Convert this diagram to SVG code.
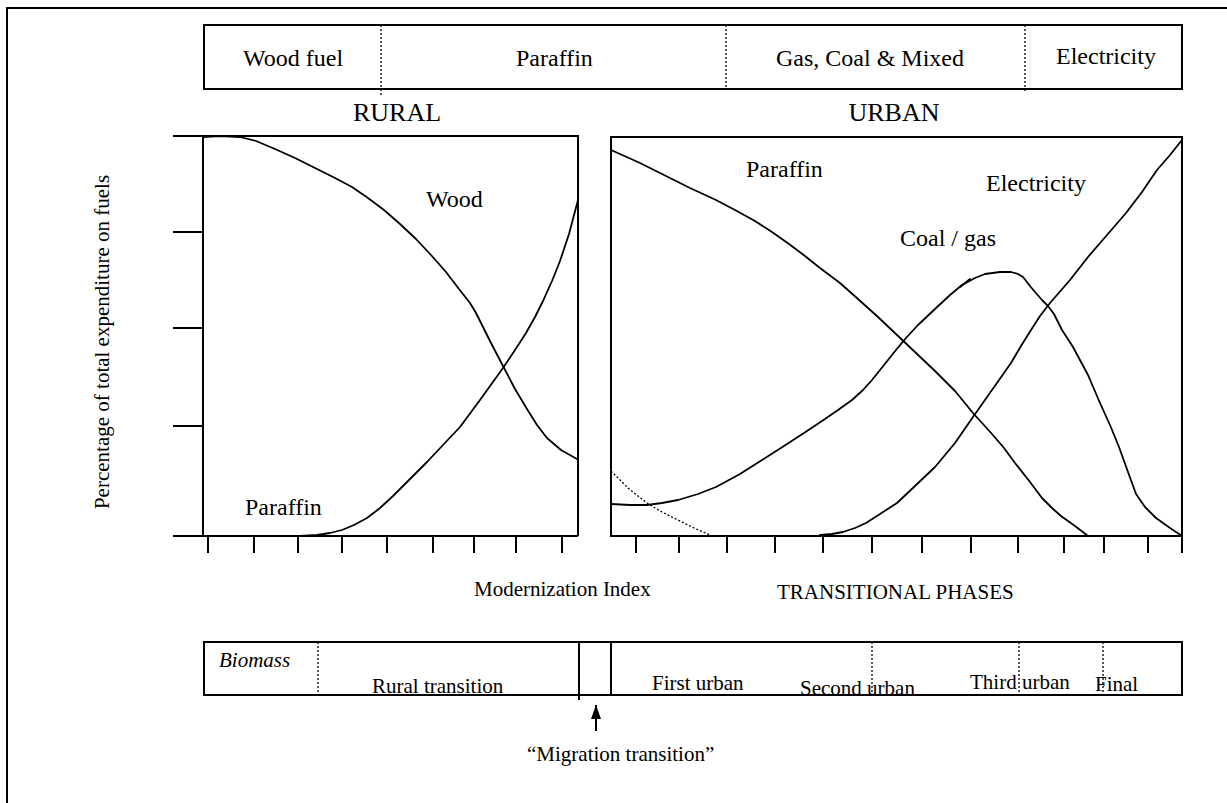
<svg xmlns="http://www.w3.org/2000/svg" width="1227" height="803" viewBox="0 0 1227 803">
<style>
.ln{stroke:#000;stroke-width:2;fill:none}
.cv{stroke:#000;stroke-width:1.8;fill:none;stroke-linejoin:round;stroke-linecap:round}
.dot{stroke:#000;stroke-width:1.3;fill:none;stroke-dasharray:2 2}
text{font-family:"Liberation Serif","Times New Roman",serif;fill:#000;font-size:21px}
.big{font-size:26px}
.bar{font-size:24px}
.lbl{font-size:24px}
</style>
<defs>
<marker id="ah" viewBox="0 0 14 10" refX="14" refY="5" markerWidth="14" markerHeight="10" markerUnits="userSpaceOnUse" orient="auto">
<path d="M0,0 L14,5 L0,10 Z" fill="#000"/>
</marker>
</defs>
<rect width="1227" height="803" fill="#fff"/>
<path class="ln" d="M7,803 V8 H1227"/>

<g id="fuel-bar">
<rect class="ln" x="204" y="25" width="978" height="64"/>
<line class="dot" x1="381" y1="25" x2="381" y2="96"/>
<line class="dot" x1="726" y1="25" x2="726" y2="89"/>
<line class="dot" x1="1025" y1="25" x2="1025" y2="93"/>
<text class="bar" x="243" y="66">Wood fuel</text>
<text class="bar" x="516" y="66">Paraffin</text>
<text class="bar" x="776" y="66">Gas, Coal &amp; Mixed</text>
<text class="bar" x="1056" y="64">Electricity</text>
</g>

<g id="rural-title"><text class="big" x="397" y="121" text-anchor="middle">RURAL</text></g>
<g id="urban-title"><text class="big" x="894" y="121" text-anchor="middle">URBAN</text></g>

<g id="y-label"><text transform="translate(109,342) rotate(-90)" text-anchor="middle">Percentage of total expenditure on fuels</text></g>

<g id="rural-chart">
<path class="ln" d="M173,136 H578 V536 M203,136 V536 M173,536 H578 M173,232 H203 M173,328 H203 M173,426 H203"/>
<path class="ln" d="M208,536 v17 M254,536 v17 M298,536 v17 M342,536 v17 M387,536 v17 M433,536 v17 M474,536 v17 M516,536 v17 M562,536 v17"/>
<polyline class="cv" points="203,137 220,136 240,137 256,141 275,149 295,158 315,168 335,178 352,187 368,198 384,210 400,224 416,239 431,255 446,272 459,289 470,303 476,313 481,323 491,343 503,366 515,389 527,409 537,425 547,438 561,450 577,459"/>
<polyline class="cv" points="300,536 317,535 330,533 342,530 354,525 367,518 380,508 393,496 410,479 427,462 443,445 460,427 480,400 503,368 515,350 526,333 535,317 543,301 552,281 560,261 569,234 578,200"/>
<text class="lbl" x="426" y="207">Wood</text>
<text class="lbl" x="245" y="515">Paraffin</text>
</g>

<g id="urban-chart">
<rect class="ln" x="611" y="137" width="571" height="399"/>
<path class="ln" d="M636,536 v17 M679,536 v17 M727,536 v17 M775,536 v17 M823,536 v17 M872,536 v17 M922,536 v17 M971,536 v17 M1018,536 v17 M1064,536 v17 M1104,536 v17 M1148,536 v17 M1182,536 v17"/>
<polyline class="cv" points="611,150 640,163 666,176 690,188 716,200 735,210 755,221 772,232 789,244 805,256 820,268 840,283 858,299 878,317 897,335 916,353 935,371 955,391 973,413 992,434 1004,448 1015,463 1030,482 1042,498 1052,508 1061,516 1075,526 1088,536"/>
<polyline class="cv" points="611,504 630,505 647,505 662,503 678,500 698,494 716,487 740,474 762,460 784,446 804,433 822,421 838,410 852,400 863,390 872,380 884,365 896,350 906,338 918,325 935,309 950,295 962,285 975,278 985,274 1000,272 1011,272 1018,274 1023,277 1030,286 1035,292 1042,300 1048,306 1054,314 1062,330 1073,347 1088,375 1100,403 1110,425 1119,447 1128,472 1136,494 1145,507 1156,518 1170,528 1182,536"/>
<line class="cv" x1="960" y1="287" x2="970" y2="279" stroke-width="2.6"/>
<polyline class="cv" points="820,535 832,534 843,532 855,528 866,523 880,514 897,503 915,486 935,467 955,443 973,417 992,390 1011,363 1021,346 1031,330 1040,316 1050,303 1070,280 1088,257 1107,235 1126,213 1142,192 1157,170 1170,155 1182,140"/>
<polyline class="dot" points="611,471 628,488 647,503 662,512 678,520 694,528 710,535"/>
<text class="lbl" x="746" y="177">Paraffin</text>
<text class="lbl" x="986" y="191">Electricity</text>
<text class="lbl" x="900" y="246">Coal / gas</text>
</g>

<g id="axis-labels">
<text x="474" y="596" font-size="21.5">Modernization Index</text>
<text x="777" y="599" font-size="21.5">TRANSITIONAL PHASES</text>
</g>

<g id="phase-bar">
<rect class="ln" x="204" y="642" width="978" height="53"/>
<line class="ln" x1="579" y1="642" x2="579" y2="700"/>
<line class="ln" x1="611" y1="642" x2="611" y2="695"/>
<line class="dot" x1="318" y1="642" x2="318" y2="695"/>
<line class="dot" x1="872" y1="642" x2="872" y2="695"/>
<line class="dot" x1="1019" y1="642" x2="1019" y2="695"/>
<line class="dot" x1="1103" y1="642" x2="1103" y2="695"/>
<text x="219" y="667" font-style="italic">Biomass</text>
<text x="372" y="693">Rural transition</text>
<text x="652" y="690">First urban</text>
<text x="800" y="695">Second urban</text>
<text x="970" y="689">Third urban</text>
<text x="1095" y="691">Final</text>
</g>

<g id="connectors">
<line class="ln" x1="596" y1="731" x2="596" y2="705" marker-end="url(#ah)"/>
</g>

<g id="migration-label"><text x="527" y="761">“Migration transition”</text></g>
</svg>
